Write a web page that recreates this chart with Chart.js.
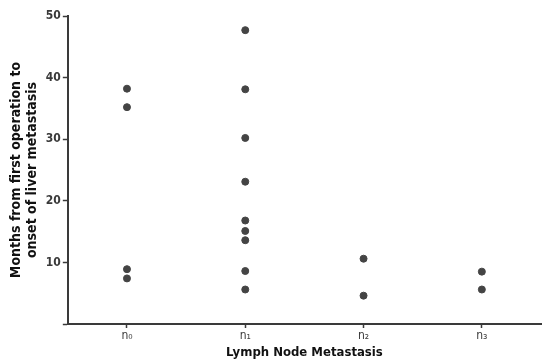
<!DOCTYPE html>
<html>
<head>
<meta charset="utf-8">
<script src="https://cdn.jsdelivr.net/npm/chart.js@4/dist/chart.umd.min.js"></script>
<style>
  html, body { margin: 0; padding: 0; background: #fff; }
  #wrap { width: 546px; height: 362px; }
</style>
</head>
<body>
<div id="wrap"><canvas id="scatter" width="546" height="362"></canvas></div>
<script>
// categories on x axis
const categories = ['n₀', 'n₁', 'n₂', 'n₃'];
// months, one list per category
const n0Months = [38.2, 35.2, 8.9, 7.4];
const n1Months = [47.7, 38.1, 30.2, 23.1, 16.8, 15.1, 13.6, 8.6, 5.6];
const n2Months = [10.6, 4.6];
const n3Months = [8.5, 5.6];
const yTicks = [0, 10, 20, 30, 40, 50];

const groups = [n0Months, n1Months, n2Months, n3Months];
const points = [];
groups.forEach((list, i) => {
  list.forEach(v => points.push({ x: i + 1, y: v }));
});

const ink = '#3a3a3a';
const font = "'DejaVu Sans Condensed', 'Liberation Sans Narrow', sans-serif";

const ctx = document.getElementById('scatter').getContext('2d');
const chart = new Chart(ctx, {
  type: 'scatter',
  data: {
    datasets: [{
      label: 'Months',
      data: points,
      backgroundColor: '#444',
      borderColor: '#444',
      pointRadius: 3.5,
      pointHoverRadius: 3.5,
    }],
  },
  options: {
    responsive: false,
    animation: false,
    layout: { padding: { top: 16, right: 5, left: 9, bottom: 0 } },
    plugins: { legend: { display: false }, tooltip: { enabled: false } },
    scales: {
      x: {
        type: 'linear',
        min: 0.5,
        max: 4.5,
        afterBuildTicks: axis => {
          axis.ticks = categories.map((c, i) => ({ value: i + 1 }));
        },
        ticks: {
          callback: v => categories[v - 1],
          color: ink,
          font: { family: font, size: 12 },
          padding: 1,
          maxRotation: 0,
        },
        grid: { drawOnChartArea: false, color: ink, tickLength: 4, tickWidth: 1.5 },
        border: { color: ink, width: 2 },
        title: {
          display: true,
          text: 'Lymph Node Metastasis',
          color: '#111',
          font: { family: font, size: 13, weight: 'bold' },
          padding: { top: 0, bottom: 2 },
        },
      },
      y: {
        min: 0,
        max: 50,
        afterBuildTicks: axis => {
          axis.ticks = yTicks.map(v => ({ value: v }));
        },
        ticks: {
          callback: v => (v === 0 ? '' : v),
          color: ink,
          font: { family: font, size: 12, weight: 'bold' },
          padding: 2,
        },
        grid: { drawOnChartArea: false, color: ink, tickLength: 5, tickWidth: 1.5 },
        border: { color: ink, width: 2 },
        title: {
          display: true,
          text: ['Months from first operation to', 'onset of liver metastasis'],
          color: '#111',
          font: { family: font, size: 14, weight: 'bold', lineHeight: 1.1 },
          padding: { top: 0, bottom: 4 },
        },
      },
    },
  },
});
</script>
</body>
</html>
